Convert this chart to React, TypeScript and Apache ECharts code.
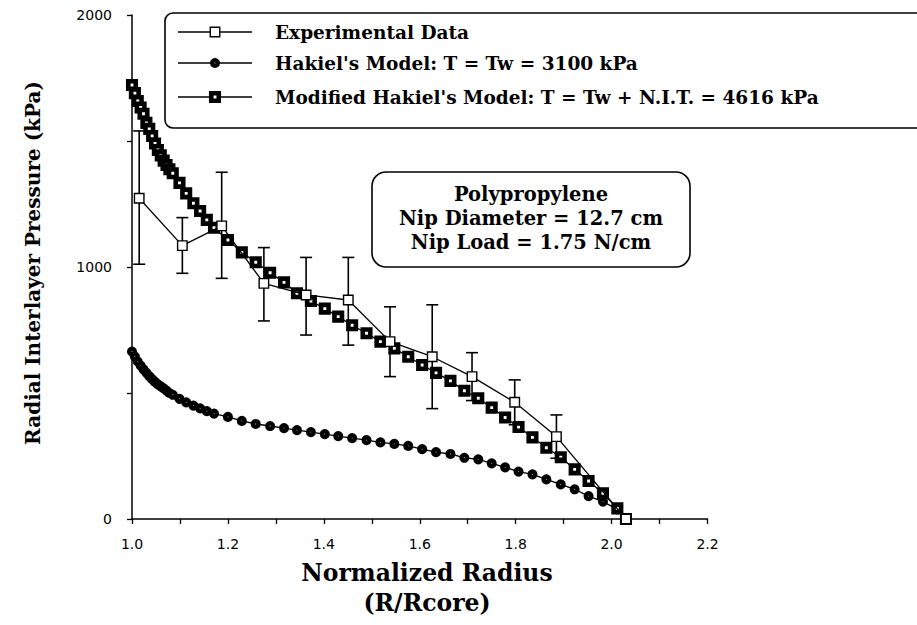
import React, { useEffect, useRef } from "react";
import * as echarts from "echarts";

// Shared radial grid of the two model curves (R/Rcore)
const MODEL_X = [
  1.0, 1.006, 1.012, 1.018, 1.024, 1.03, 1.036, 1.042, 1.048, 1.054, 1.06, 1.066, 1.072, 1.078, 1.085,
  1.099, 1.113, 1.128, 1.142, 1.156, 1.171, 1.2, 1.229, 1.258, 1.288, 1.317, 1.344, 1.373, 1.402, 1.43,
  1.459, 1.489, 1.518, 1.547, 1.576, 1.605, 1.634, 1.664, 1.693, 1.722, 1.75, 1.778, 1.806, 1.835, 1.864,
  1.894, 1.923, 1.952, 1.982, 2.012, 2.03,
];
// Hakiel's Model: T = Tw = 3100 kPa
const HAKIEL_Y = [
  664, 644, 625, 609, 594, 580, 567, 555, 544, 534, 526, 518, 509, 500, 493,
  477, 463, 450, 439, 428, 418, 405, 389, 377, 369, 361, 353, 345, 337, 329,
  321, 313, 304, 298, 290, 277, 265, 258, 243, 237, 221, 205, 188, 177, 157,
  137, 118, 91, 69, 38, 0,
];
// Modified Hakiel's Model: T = Tw + N.I.T. = 4616 kPa
const MODIFIED_Y = [
  1722, 1690, 1659, 1633, 1608, 1572, 1548, 1520, 1490, 1464, 1443, 1422, 1405, 1388, 1372,
  1334, 1292, 1253, 1222, 1187, 1156, 1107, 1058, 1019, 977, 939, 896, 865, 835, 803,
  769, 737, 704, 677, 644, 611, 580, 548, 509, 479, 442, 403, 365, 324, 283,
  245, 197, 151, 102, 42, 0,
];
// Experimental data with error bars
const EXP_X = [1.015, 1.105, 1.187, 1.275, 1.363, 1.451, 1.538, 1.626, 1.709, 1.798, 1.885, 2.03];
const EXP_Y = [1273, 1085, 1163, 935, 889, 869, 704, 644, 565, 463, 327, 0];
const EXP_LOW = [1011, 975, 955, 786, 730, 690, 565, 438, 470, 374, 241, null];
const EXP_HIGH = [1540, 1196, 1376, 1077, 1038, 1038, 842, 850, 660, 552, 413, null];

const LEGEND_LABELS = [
  "Experimental Data",
  "Hakiel's Model: T = Tw = 3100 kPa",
  "Modified Hakiel's Model: T = Tw + N.I.T. = 4616 kPa",
];
const NOTE_LINES = ["Polypropylene", "Nip Diameter = 12.7 cm", "Nip Load = 1.75 N/cm"];
const Y_TITLE = "Radial Interlayer Pressure (kPa)";
const X_TITLE = ["Normalized Radius", "(R/Rcore)"];

const SERIF = "'DejaVu Serif', 'Liberation Serif', serif";
const SANS = "'DejaVu Sans', 'Liberation Sans', sans-serif";

export default function App() {
  const ref = useRef<HTMLDivElement>(null);

  useEffect(() => {
    if (!ref.current) return;
    const chart = echarts.init(ref.current, undefined, { renderer: "svg" });

    const hakiel = MODEL_X.map((x, i) => [x, HAKIEL_Y[i]]);
    const modified = MODEL_X.map((x, i) => [x, MODIFIED_Y[i]]);
    const exp = EXP_X.map((x, i) => [x, EXP_Y[i]]);
    const errs = EXP_X.map((x, i) => [x, EXP_LOW[i], EXP_HIGH[i]]).filter((d) => d[1] != null);

    const expStyle = { color: "#fff", borderColor: "#000", borderWidth: 1.4 };
    const hakStyle = { color: "#fff", borderColor: "#000", borderWidth: 4.6 };
    const modStyle = { color: "#fff", borderColor: "#000", borderWidth: 4.6 };

    const legendRows = [32, 63, 97];
    const legendGraphics: any[] = [
      {
        type: "rect",
        shape: { x: 165, y: 13, width: 800, height: 115, r: 8 },
        style: { fill: "#fff", stroke: "#000", lineWidth: 1.6 },
        z: 10,
      },
    ];
    legendRows.forEach((y, i) => {
      legendGraphics.push({
        type: "line",
        shape: { x1: 178, y1: y, x2: 252, y2: y },
        style: { stroke: "#000", lineWidth: 1.3 },
        z: 11,
      });
      if (i === 0) {
        legendGraphics.push({
          type: "rect",
          shape: { x: 215 - 4.75, y: y - 4.75, width: 9.5, height: 9.5 },
          style: { fill: "#fff", stroke: "#000", lineWidth: 1.4 },
          z: 12,
        });
      } else if (i === 1) {
        legendGraphics.push({
          type: "circle",
          shape: { cx: 215, cy: y, r: 2.75 },
          style: { fill: "#fff", stroke: "#000", lineWidth: 4.6 },
          z: 12,
        });
      } else {
        legendGraphics.push({
          type: "rect",
          shape: { x: 215 - 3.75, y: y - 3.75, width: 7.5, height: 7.5 },
          style: { fill: "#fff", stroke: "#000", lineWidth: 4.6 },
          z: 12,
        });
      }
      legendGraphics.push({
        type: "text",
        x: 275,
        y,
        style: {
          text: LEGEND_LABELS[i],
          font: `bold 18.5px ${SERIF}`,
          fill: "#000",
          verticalAlign: "middle",
          align: "left",
        },
        z: 12,
      });
    });

    const noteGraphics: any[] = [
      {
        type: "rect",
        shape: { x: 372, y: 172, width: 318, height: 95, r: 14 },
        style: { fill: "#fff", stroke: "#000", lineWidth: 1.6 },
        z: 10,
      },
      ...NOTE_LINES.map((t, i) => ({
        type: "text",
        x: 531,
        y: 194 + i * 24,
        style: {
          text: t,
          font: `bold 19.5px ${SERIF}`,
          fill: "#000",
          align: "center",
          verticalAlign: "middle",
        },
        z: 11,
      })),
    ];

    const titleGraphics: any[] = [
      {
        type: "text",
        x: 33,
        y: 263,
        rotation: Math.PI / 2,
        style: {
          text: Y_TITLE,
          font: `bold 20px ${SERIF}`,
          fill: "#000",
          align: "center",
          verticalAlign: "middle",
        },
      },
      ...X_TITLE.map((t, i) => ({
        type: "text",
        x: 427,
        y: 573 + i * 30,
        style: {
          text: t,
          font: `bold 23.5px ${SERIF}`,
          fill: "#000",
          align: "center",
          verticalAlign: "middle",
        },
      })),
    ];

    chart.setOption({
      animation: false,
      backgroundColor: "#fff",
      grid: { left: 132, top: 15, width: 575.5, height: 504 },
      xAxis: {
        type: "value",
        min: 1.0,
        max: 2.2,
        interval: 0.1,
        axisLine: { lineStyle: { color: "#000", width: 1.5 } },
        axisTick: { length: 5, lineStyle: { color: "#000", width: 1.3 } },
        splitLine: { show: false },
        axisLabel: {
          color: "#000",
          fontFamily: SANS,
          fontSize: 14,
          margin: 18,
          formatter: (v: number) => {
            const k = Math.round(v * 10);
            return k % 2 === 0 ? (k / 10).toFixed(1) : "";
          },
        },
      },
      yAxis: {
        type: "value",
        min: 0,
        max: 2000,
        interval: 500,
        axisLine: { show: true, lineStyle: { color: "#000", width: 1.5 } },
        axisTick: { show: true, length: 5, lineStyle: { color: "#000", width: 1.3 } },
        splitLine: { show: false },
        axisLabel: {
          color: "#000",
          fontFamily: SANS,
          fontSize: 14,
          margin: 20,
          formatter: (v: number) => (v % 1000 === 0 ? String(v) : ""),
        },
      },
      series: [
        {
          name: LEGEND_LABELS[1],
          type: "line",
          data: hakiel,
          symbol: "circle",
          symbolSize: 5.5,
          lineStyle: { color: "#000", width: 1.3 },
          itemStyle: hakStyle,
          z: 2,
        },
        {
          name: LEGEND_LABELS[2],
          type: "line",
          data: modified,
          symbol: "rect",
          symbolSize: 7.5,
          lineStyle: { color: "#000", width: 1.3 },
          itemStyle: modStyle,
          z: 3,
        },
        {
          name: "Error bars",
          type: "custom",
          data: errs,
          encode: { x: 0, y: [1, 2] },
          z: 4,
          renderItem: (params: any, api: any) => {
            const x = api.value(0);
            const lo = api.coord([x, api.value(1)]);
            const hi = api.coord([x, api.value(2)]);
            const w = 6;
            const st = { stroke: "#000", lineWidth: 1.6 };
            return {
              type: "group",
              children: [
                { type: "line", shape: { x1: lo[0], y1: lo[1], x2: hi[0], y2: hi[1] }, style: st },
                { type: "line", shape: { x1: lo[0] - w, y1: lo[1], x2: lo[0] + w, y2: lo[1] }, style: st },
                { type: "line", shape: { x1: hi[0] - w, y1: hi[1], x2: hi[0] + w, y2: hi[1] }, style: st },
              ],
            };
          },
        },
        {
          name: LEGEND_LABELS[0],
          type: "line",
          data: exp,
          symbol: "rect",
          symbolSize: 9.5,
          lineStyle: { color: "#000", width: 1.3 },
          itemStyle: expStyle,
          z: 5,
        },
      ],
      graphic: [...titleGraphics, ...noteGraphics, ...legendGraphics],
    });

    return () => chart.dispose();
  }, []);

  return (
    <div
      ref={ref}
      style={{ position: "fixed", left: 0, top: 0, width: 917, height: 625, background: "#fff" }}
    />
  );
}
